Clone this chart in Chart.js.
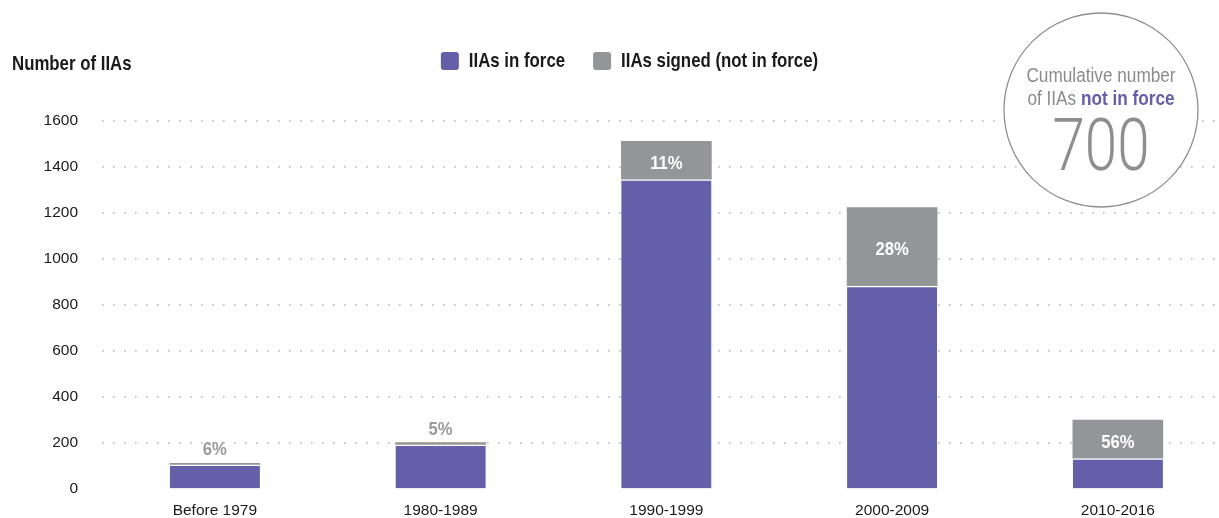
<!DOCTYPE html>
<html><head><meta charset="utf-8">
<script src="https://cdn.jsdelivr.net/npm/chart.js@4.4.1/dist/chart.umd.min.js"></script>
<style>html,body{margin:0;padding:0;background:#fff;overflow:hidden}#wrap{width:1219px;height:518px;position:relative}</style>
</head><body><div id="wrap"><canvas id="c"></canvas></div>
<script>
const categories = ['Before 1979','1980-1989','1990-1999','2000-2009','2010-2016'];
const inForce = [105, 192, 1345, 882, 132];
const signedNotInForce = [7, 10, 167, 342, 168];
const shareNotInForce = ['6%','5%','11%','28%','56%'];
const yTicks = [0,200,400,600,800,1000,1200,1400,1600];
const seriesNames = ['IIAs in force','IIAs signed (not in force)'];
const yAxisTitle = 'Number of IIAs';
const calloutText = ['Cumulative number', 'of IIAs ', 'not in force'];
const cumulativeNotInForce = '700';

const PURPLE = '#635fa9', GREY = '#949598';
const SANS = '"Liberation Sans", Arial, sans-serif';

// draw horizontally condensed text (reference uses a condensed face)
function ctext(ctx, s, x, y, font, color, align, sx) {
  ctx.save();
  ctx.font = font;
  ctx.fillStyle = color;
  ctx.textAlign = align;
  ctx.textBaseline = 'alphabetic';
  ctx.translate(x, y);
  ctx.scale(sx, 1);
  ctx.fillText(s, 0, 0);
  ctx.restore();
}
function cwidth(ctx, s, font, sx) {
  ctx.save(); ctx.font = font; const w = ctx.measureText(s).width * sx; ctx.restore(); return w;
}

const decor = {
  id: 'decor',
  afterDatasetsDraw(chart) {
    const ctx = chart.ctx;
    const meta = chart.getDatasetMeta(1);
    const f = 'bold 18.5px ' + SANS;
    meta.data.forEach((el, i) => {
      const p = el.getProps(['x','y','base'], true);
      const h = p.base - p.y;
      if (h > 24) {
        ctext(ctx, shareNotInForce[i], p.x, (p.y + p.base) / 2 + 8.5, f, '#ffffff', 'center', 0.9);
      } else {
        ctext(ctx, shareNotInForce[i], p.x, p.y - 8, f, '#9b9b9b', 'center', 0.9);
      }
    });
  },
  afterDraw(chart) {
    const ctx = chart.ctx;
    // axis title
    const tf = 'bold 20.5px ' + SANS;
    ctext(ctx, yAxisTitle, 12, 70, tf, '#1a1a1a', 'left', 0.82);
    // legend
    const ds = chart.data.datasets;
    const widths = ds.map(d => cwidth(ctx, d.label, tf, 0.82));
    const total = widths.reduce((a, w) => a + 28 + w, 0) + 28 * (ds.length - 1);
    let x = 629.5 - total / 2;
    ds.forEach((d, i) => {
      ctx.save();
      ctx.fillStyle = d.backgroundColor;
      ctx.beginPath();
      ctx.roundRect(x, 52, 18, 18, 3);
      ctx.fill();
      ctx.restore();
      ctext(ctx, d.label, x + 28, 67, tf, '#1a1a1a', 'left', 0.82);
      x += 28 + widths[i] + 28;
    });
    // callout circle
    const cx = 1101, cy = 110, r = 97;
    ctx.save();
    ctx.beginPath();
    ctx.arc(cx, cy, r, 0, Math.PI * 2);
    ctx.fillStyle = '#ffffff';
    ctx.fill();
    ctx.lineWidth = 1.3;
    ctx.strokeStyle = '#8f8f8f';
    ctx.stroke();
    ctx.restore();
    const rf = '20px ' + SANS, bf = 'bold 20px ' + SANS, sx = 0.86;
    ctext(ctx, calloutText[0], cx, 82, rf, '#8c8c8c', 'center', sx);
    const w1 = cwidth(ctx, calloutText[1], rf, sx);
    const w2 = cwidth(ctx, calloutText[2], bf, sx);
    const lx = cx - (w1 + w2) / 2;
    ctext(ctx, calloutText[1], lx, 105, rf, '#8c8c8c', 'left', sx);
    ctext(ctx, calloutText[2], lx + w1, 105, bf, PURPLE, 'left', sx);
    ctext(ctx, cumulativeNotInForce, cx, 170, '300 73px Roboto, ' + SANS, '#8e8e8e', 'center', 0.8);
  }
};

new Chart(document.getElementById('c'), {
  type: 'bar',
  data: {
    datasets: [
      { label: seriesNames[0], data: inForce.map((v, i) => ({x: i, y: v})), backgroundColor: PURPLE,
        borderColor: '#ffffff', borderWidth: {top: 1.5, left: 0, right: 0, bottom: 0}, borderSkipped: false, barThickness: 90 },
      { label: seriesNames[1], data: signedNotInForce.map((v, i) => ({x: i, y: v})), backgroundColor: GREY,
        borderWidth: 0, barThickness: 90 }
    ]
  },
  options: {
    responsive: true,
    maintainAspectRatio: false,
    animation: false,
    events: [],
    layout: { padding: { top: 121, left: 0, right: 0, bottom: 0 } },
    plugins: { legend: { display: false }, tooltip: { enabled: false } },
    scales: {
      x: {
        type: 'linear', stacked: true, offset: false, min: -0.5, max: 4.448,
        afterBuildTicks: s => { s.ticks = categories.map((c, i) => ({value: i})); },
        afterFit: s => { s.height = 29; },
        grid: { display: false, drawTicks: false },
        border: { display: false },
        ticks: { autoSkip: false, maxRotation: 0, padding: 12, color: '#1a1a1a',
          font: { family: SANS, size: 15.5 }, callback: v => categories[v] }
      },
      y: {
        stacked: true, min: 0, max: 1600,
        afterBuildTicks: s => { s.ticks = yTicks.map(v => ({value: v})); },
        afterFit: s => { s.width = 102; s.paddingTop = 0; s.paddingBottom = 0; },
        grid: { color: c => (c.tick && c.tick.value === 0) ? 'rgba(0,0,0,0)' : '#c2c2c2', lineWidth: 1.7, drawTicks: false },
        border: { display: false, dash: [1.7, 9.3] },
        ticks: { padding: 24, color: '#1a1a1a', font: { family: SANS, size: 15.5 }, callback: v => String(v) }
      }
    }
  },
  plugins: [decor]
});
</script>
</body></html>
